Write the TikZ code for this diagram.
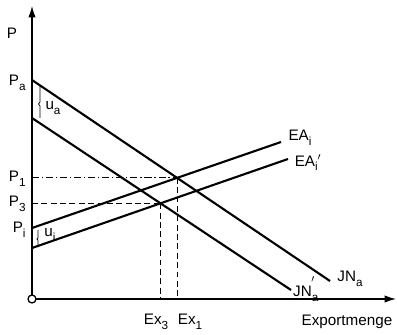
\documentclass[tikz,border=0pt]{standalone}
\usepackage{fontspec}
\setmainfont{Liberation Sans}
\usetikzlibrary{arrows.meta}
\newcommand{\lsub}[1]{\raisebox{-0.6ex}{\fontsize{10}{12}\selectfont #1}}
\tikzset{
  axis/.style={line width=1.1pt, -{Latex[length=3.4mm,width=2.2mm]}},
  curve/.style={line width=1.8pt},
  guide/.style={line width=0.7pt, dash pattern=on 5pt off 3pt},
  guidedot/.style={line width=0.7pt, dash pattern=on 6pt off 2.5pt on 1pt off 2.5pt},
  gap/.style={line width=0.6pt},
  lbl/.style={inner sep=1pt, font=\fontsize{13}{15}\selectfont}
}

\begin{document}
\begin{tikzpicture}[x=0.03cm,y=0.03cm]
  \useasboundingbox (0,0) rectangle (397,334);
  % axes
  \coordinate (o) at (32,35);
  \coordinate (ytop) at (32,328);
  \coordinate (xend) at (396,35);
  \draw[axis] (o) -- (ytop);
  \draw[axis] (o) -- (xend);
  \draw[line width=1.1pt, fill=white] (o) circle (4);
  % demand curves
  \coordinate (pa) at (32,254);
  \coordinate (jna) at (330,53);
  \coordinate (pa2) at (32,216);
  \coordinate (jna2) at (291,44);
  \draw[curve] (pa) -- (jna);
  \draw[curve] (pa2) -- (jna2);
  % supply curves
  \coordinate (pi) at (32,106);
  \coordinate (eai) at (281,192);
  \coordinate (pi2) at (32,86);
  \coordinate (eai2) at (288,175);
  \draw[curve] (pi) -- (eai);
  \draw[curve] (pi2) -- (eai2);
  % equilibria
  \coordinate (s1) at (intersection of pa--jna and pi--eai);
  \coordinate (s3) at (intersection of pa2--jna2 and pi2--eai2);
  \draw[guidedot] (s1 -| o) -- (s1);
  \draw[guide] (s3 -| o) -- (s3);
  \draw[guide] (s1) -- (s1 |- o);
  \draw[guide] (s3) -- (s3 |- o);
  % tariff gaps
  \draw[gap] (40,249) -- (40,232) -- (38.5,230) -- (40,228) -- (40,216);
  \draw[gap] (38,104) -- (38,96) -- (36.8,95) -- (38,94) -- (38,87);
  % labels
  \node[lbl] (lp) at (12,301) {P};
  \node[lbl, anchor=east] (lpa) at (27,251) {P\lsub{a}};
  \node[lbl, anchor=east] (lp1) at (27,155) {P\lsub{1}};
  \node[lbl, anchor=east] (lp3) at (27,130) {P\lsub{3}};
  \node[lbl, anchor=east] (lpi) at (27,104) {P\lsub{i}};
  \node[lbl] (lua) at (53,226) {u\lsub{a}};
  \node[lbl] (lui) at (50,99) {u\lsub{i}};
  \node[lbl] (lex3) at (156,12) {Ex\lsub{3}};
  \node[lbl] (lex1) at (190,12) {Ex\lsub{1}};
  \node[lbl] (lexp) at (347,12) {Exportmenge};
  \node[lbl] (ljna2) at (306,45) {JN\lsub{a}\kern-0.45em\raisebox{1.1ex}{$'$}\kern0.25em};
  \node[lbl] (ljna) at (350,55) {JN\lsub{a}};
  \node[lbl] (leai) at (300,196) {EA\lsub{i}};
  \node[lbl] (leai2) at (308,171) {EA\lsub{i}$'$};
\end{tikzpicture}
\end{document}
